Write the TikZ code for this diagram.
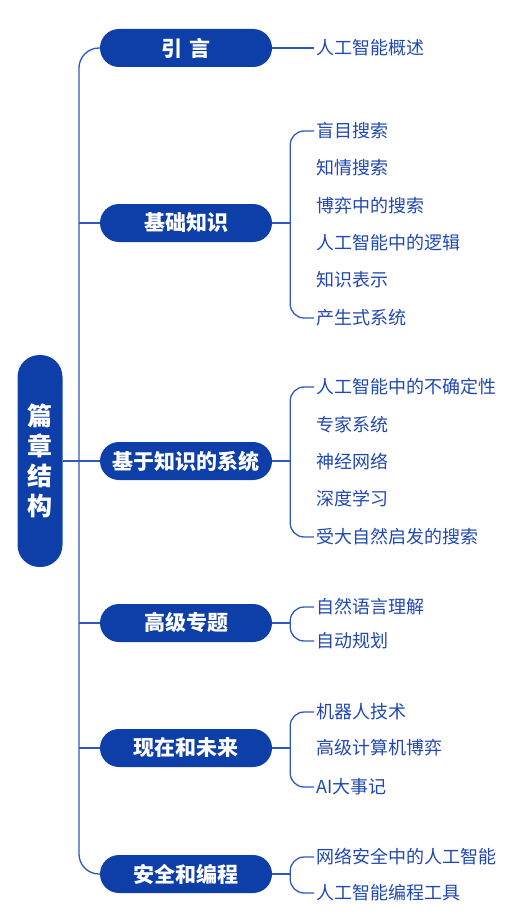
\documentclass[tikz,border=0pt]{standalone}
\usepackage{fontspec}
\setmainfont{Noto Sans CJK SC}
\usetikzlibrary{calc}
\definecolor{mainblue}{HTML}{0E3FA9}
\definecolor{lineblue}{HTML}{2F57C2}
\definecolor{leafblue}{HTML}{2148B0}

\begin{document}
\begin{tikzpicture}[x=1pt, y=-1pt,
	root/.style={fill=mainblue, rounded corners=22pt, minimum width=45pt, minimum height=212pt,
		text=white, font=\fontsize{25}{30}\selectfont\bfseries, align=center, inner sep=0pt},
	part/.style={fill=mainblue, rounded corners=19pt, minimum width=172pt, minimum height=38pt,
		text=white, font=\fontsize{21}{25}\selectfont\bfseries, inner sep=0pt},
	leaf/.style={anchor=west, text=leafblue, font=\fontsize{18}{22}\selectfont,
		inner xsep=2pt, inner ysep=0pt, text height=15.8pt, text depth=2.2pt},
	link/.style={draw=lineblue, line width=1.3pt}]
	% 513 x 915, 1pt = 1px
	\useasboundingbox (0,0) rectangle (513,915);

	% root
	\node[root] (root) at (40,461) {篇\\章\\结\\构};
	\coordinate (trunk) at (79,461);

	% parts
	\node[part] (p1) at (186,48) {引\hspace{7pt}言};
	\node[part] (p2) at (186,223) {基础知识};
	\node[part] (p3) at (186,461) {基于知识的系统};
	\node[part] (p4) at (186,623) {高级专题};
	\node[part] (p5) at (186,748) {现在和未来};
	\node[part] (p6) at (186,874) {安全和编程};

	% trunk
	\draw[link] (root.east) -- (trunk) -- (p3.west);
	\draw[link, rounded corners=20pt] (trunk) |- (p1.west);
	\draw[link, rounded corners=20pt] (trunk) |- (p6.west);
	\draw[link] (trunk |- p2.west) -- (p2.west);
	\draw[link] (trunk |- p4.west) -- (p4.west);
	\draw[link] (trunk |- p5.west) -- (p5.west);

	% leaves
	\node[leaf] (l11) at (314,48) {人工智能概述};

	\node[leaf] (l21) at (314,131) {盲目搜索};
	\node[leaf] (l22) at (314,168) {知情搜索};
	\node[leaf] (l23) at (314,206) {博弈中的搜索};
	\node[leaf] (l24) at (314,243) {人工智能中的逻辑};
	\node[leaf] (l25) at (314,280) {知识表示};
	\node[leaf] (l26) at (314,318) {产生式系统};

	\node[leaf] (l31) at (314,387) {人工智能中的不确定性};
	\node[leaf] (l32) at (314,425) {专家系统};
	\node[leaf] (l33) at (314,462) {神经网络};
	\node[leaf] (l34) at (314,499) {深度学习};
	\node[leaf] (l35) at (314,537) {受大自然启发的搜索};

	\node[leaf] (l41) at (314,607) {自然语言理解};
	\node[leaf] (l42) at (314,641) {自动规划};

	\node[leaf] (l51) at (314,712) {机器人技术};
	\node[leaf] (l52) at (314,748) {高级计算机博弈};
	\node[leaf] (l53) at (314,787) {AI大事记};

	\node[leaf] (l61) at (314,857) {网络安全中的人工智能};
	\node[leaf] (l62) at (314,893) {人工智能编程工具};

	% branches
	\draw[link] (p1.east) -- (l11.west);
	\foreach \p/\a/\b in {p2/l21/l26, p3/l31/l35, p4/l41/l42, p5/l51/l53, p6/l61/l62}
	{
		\coordinate (j) at ($(\p.east)+(18,0)$);
		\draw[link] (\p.east) -- (j);
		\draw[link, rounded corners=14pt] (j) |- (\a.west);
		\draw[link, rounded corners=14pt] (j) |- (\b.west);
	}
\end{tikzpicture}
\end{document}
